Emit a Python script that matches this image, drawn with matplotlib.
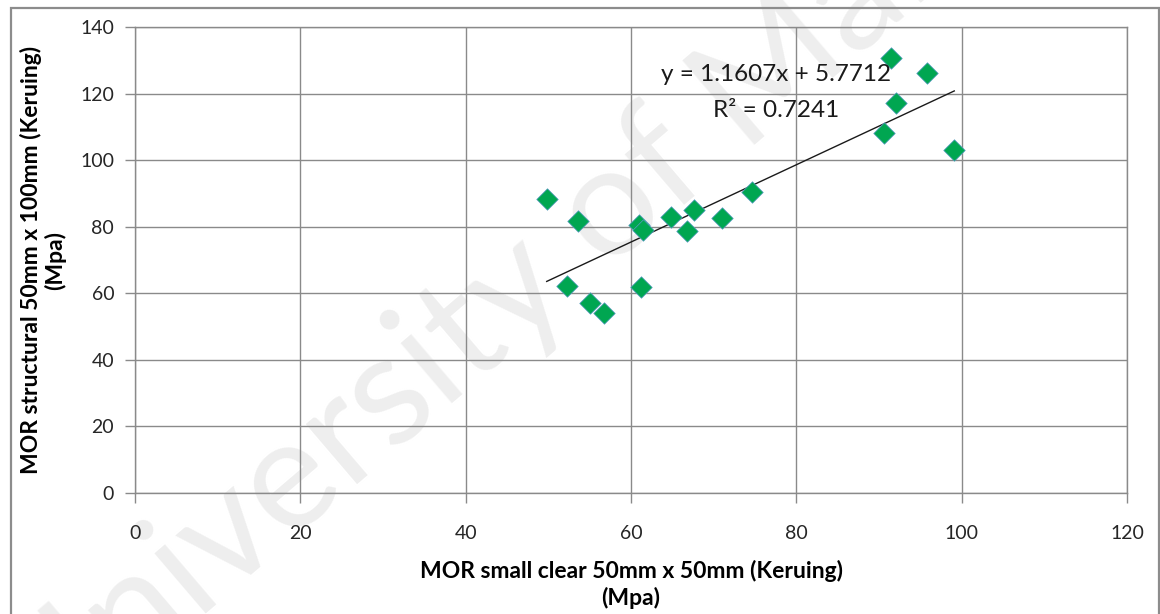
import matplotlib.pyplot as plt
from matplotlib.patches import Rectangle
import numpy as np

# MOR values (Mpa): small clear specimens vs structural size, Keruing
mor_small = [49.8, 52.3, 53.6, 55.0, 56.7, 61.0, 61.5, 61.2, 64.8,
             66.8, 67.6, 71.0, 74.6, 90.6, 91.4, 92.1, 95.8, 99.1]
mor_struct = [88.2, 62.1, 81.7, 57.0, 54.1, 80.5, 78.9, 62.0, 82.8,
              78.6, 84.9, 82.5, 90.3, 108.3, 130.6, 117.1, 126.2, 103.0]

# linear trend as reported
slope = 1.1607
intercept = 5.7712
r_squared = 0.7241

plt.rcParams['font.family'] = ['Lato', 'DejaVu Sans']

fig = plt.figure(figsize=(11.6, 6.14), dpi=100)
ax = fig.add_axes([0.1164, 0.197, 0.8552, 0.759])
ax.set_facecolor('none')
ax.set_zorder(1)

# watermark behind everything
fig.text(0.477, 0.577, 'University of Malaya', rotation=40.5, fontsize=112,
         color='#eeeeee', ha='center', va='center', zorder=-1)

# outer chart frame
fig.patches.append(Rectangle((11 / 1160, -0.02), 1148 / 1160, 1.02 - 8 / 614,
                             transform=fig.transFigure, fill=False,
                             edgecolor='#8c8c8c', linewidth=1.6))

grid_c = '#8a8a8a'
ax.grid(True, color=grid_c, linewidth=1.0)
ax.set_axisbelow(True)

xs = np.array(mor_small)
tx = np.array([xs.min(), xs.max()])
ax.plot(tx, slope * tx + intercept, color='#1a1a1a', linewidth=1.0, zorder=3)

ax.scatter(mor_small, mor_struct, marker='D', s=120, color='#00a651',
           edgecolors='#5b9bc4', linewidths=0.5, zorder=4)

ax.text(77.5, 125.6, f'y = {slope}x + {intercept}', fontsize=17.5,
        ha='center', va='center', color='#1a1a1a', zorder=5)
ax.text(77.5, 114.8, f'R² = {r_squared}', fontsize=17.5,
        ha='center', va='center', color='#1a1a1a', zorder=5)

ax.set_xlim(0, 120)
ax.set_ylim(0, 140)
ax.set_xticks(range(0, 121, 20))
ax.set_yticks(range(0, 141, 20))
ax.tick_params(direction='out', length=7, width=1, color=grid_c,
               labelsize=14, labelcolor='#262626', pad=8)
ax.tick_params(axis='x', pad=16)

for side in ['top', 'right', 'left', 'bottom']:
    ax.spines[side].set_color(grid_c)
    ax.spines[side].set_linewidth(1.0)

ax.set_xlabel('MOR small clear 50mm x 50mm (Keruing)\n(Mpa)',
              fontsize=16.5, fontweight='bold', linespacing=1.25, labelpad=13)
ax.set_ylabel('MOR structural 50mm x 100mm (Keruing)\n(Mpa)',
              fontsize=16.5, fontweight='bold', linespacing=1.15, labelpad=10)

fig.savefig('out.png', dpi=100)
